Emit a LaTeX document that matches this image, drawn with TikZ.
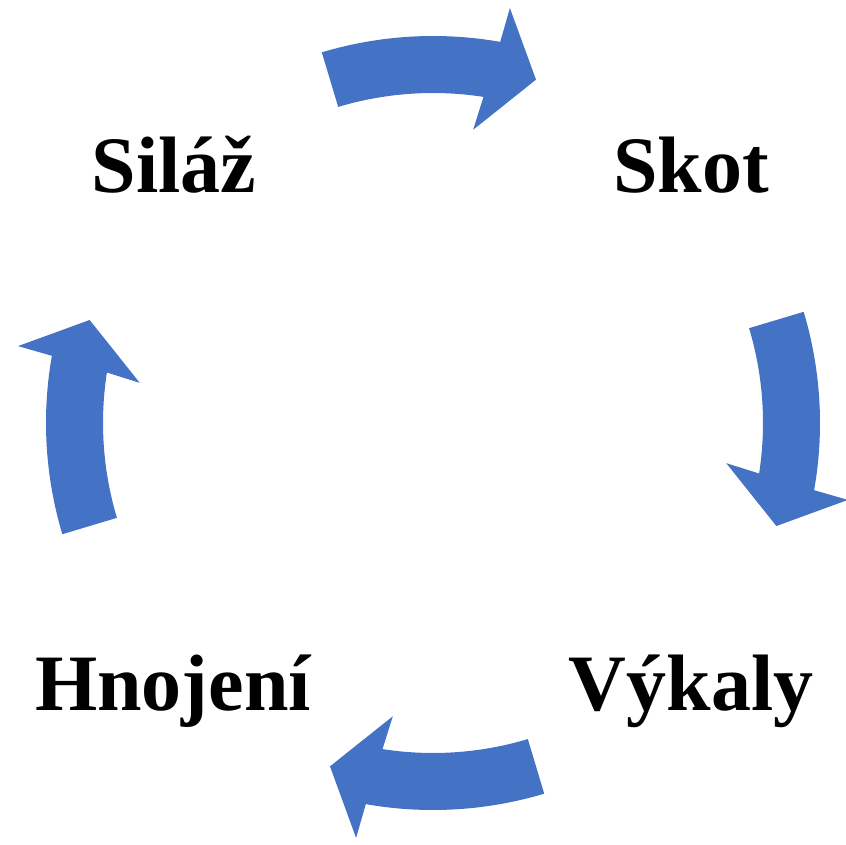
\documentclass[tikz,border=0pt]{standalone}
\usepackage{fontspec}
\setmainfont{Liberation Serif}
\definecolor{cycleblue}{HTML}{4472C4}
\begin{document}
\begin{tikzpicture}[x=1pt,y=1pt,
  cyclelabel/.style={font=\fontsize{80}{96}\selectfont\bfseries, inner sep=0pt, anchor=base},
  bendarrow/.style={fill=cycleblue, draw=none}]
\useasboundingbox (0,0) rectangle (846,-845);

% the four stages of the cycle
\node[cyclelabel] (silaz)   at (174,-193) {Siláž};
\node[cyclelabel] (skot)    at (691,-193) {Skot};
\node[cyclelabel] (vykaly)  at (691,-710) {Výkaly};
\node[cyclelabel] (hnojeni) at (173,-710) {Hnojení};

% curved block arrows, all turning clockwise around a common hub
\coordinate (hub) at (433,-423);
\begin{scope}[shift={(hub)}]
  \foreach \r in {0,-90,-180,-270}{
    \fill[bendarrow]
      ({106.7+\r}:387pt) arc[start angle=106.7+\r, end angle=80+\r, radius=387pt]
      -- ({79.5+\r}:422pt)
      -- ({73.3+\r}:358.5pt)
      -- ({82.2+\r}:296pt)
      -- ({81.2+\r}:330pt)
      arc[start angle=81.2+\r, end angle=106.7+\r, radius=330pt]
      -- cycle;
  }
\end{scope}
\end{tikzpicture}
\end{document}
